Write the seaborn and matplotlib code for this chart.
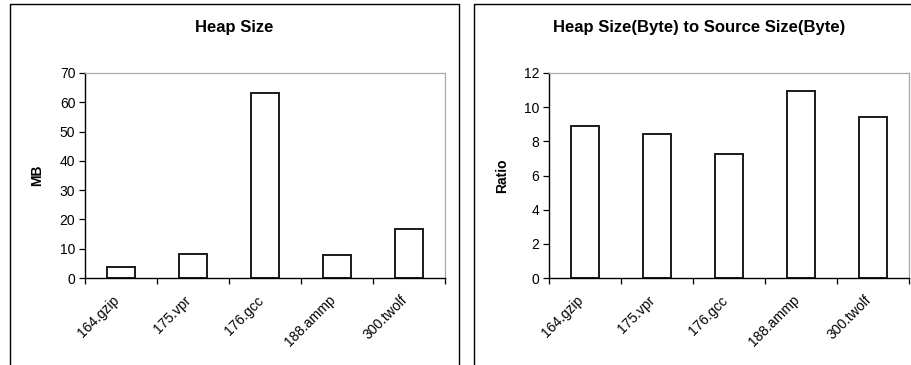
import matplotlib
matplotlib.use("Agg")
import matplotlib.pyplot as plt
import matplotlib.transforms as mtransforms
from matplotlib.lines import Line2D
import seaborn as sns
import pandas as pd

benchmarks = ["164.gzip", "175.vpr", "176.gcc", "188.ammp", "300.twolf"]
heap_mb = [3.9, 8.3, 63.2, 7.8, 16.6]
heap_to_source_ratio = [8.9, 8.45, 7.25, 10.92, 9.42]

sns.set_theme(style="white")
plt.rcParams["font.family"] = ["Liberation Sans", "DejaVu Sans"]
plt.rcParams["text.color"] = "black"
plt.rcParams["axes.labelcolor"] = "black"
plt.rcParams["xtick.color"] = "black"
plt.rcParams["ytick.color"] = "black"

W, H = 912, 365
fig = plt.figure(figsize=(W / 100, H / 100), dpi=100)

TICK_FS = 10
LABEL_FS = 10
TITLE_FS = 12


def px_axes(x0, y0, x1, y1):
    return fig.add_axes([x0 / W, 1 - y1 / H, (x1 - x0) / W, (y1 - y0) / H])


def draw_panel(ax, values, ymax, step, ylabel):
    df = pd.DataFrame({"benchmark": benchmarks, "value": values})
    sns.barplot(data=df, x="benchmark", y="value", ax=ax, color="white",
                edgecolor="#1a1a1a", linewidth=1.4, width=0.4, saturation=1)
    ax.set_xlim(-0.5, len(benchmarks) - 0.5)
    ax.set_ylim(0, ymax)
    ax.set_yticks(range(0, ymax + 1, step))
    ax.tick_params(axis="y", which="major", length=4, width=0.9, color="black",
                   direction="out", labelsize=TICK_FS, pad=3, left=True,
                   labelcolor="black")
    # category separators as ticks, labels on the category centres
    ax.set_xticks([i - 0.5 for i in range(len(benchmarks) + 1)])
    ax.set_xticklabels([])
    ax.set_xticks(range(len(benchmarks)), minor=True)
    ax.set_xticklabels(benchmarks, minor=True, rotation=45, ha="right",
                       rotation_mode="anchor", fontsize=TICK_FS, color="black")
    ax.tick_params(axis="x", which="major", length=4, width=0.9, color="black",
                   direction="out", bottom=True)
    ax.tick_params(axis="x", which="minor", length=0, pad=11)
    shift = mtransforms.ScaledTranslation(-9 / 100, 0, fig.dpi_scale_trans)
    for lbl in ax.get_xticklabels(minor=True):
        lbl.set_transform(lbl.get_transform() + shift)
    ax.set_xlabel("")
    ax.set_ylabel(ylabel, fontsize=LABEL_FS, fontweight="bold", color="black")
    for side in ("left", "bottom"):
        ax.spines[side].set_color("black")
        ax.spines[side].set_linewidth(1.0)
    for side in ("top", "right"):
        ax.spines[side].set_color("#a8a8a8")
        ax.spines[side].set_linewidth(0.9)
    ax.set_facecolor("white")


ax1 = px_axes(85, 73, 445, 278)
draw_panel(ax1, heap_mb, 70, 10, "MB")
ax1.yaxis.set_label_coords(-0.114, 0.5)

ax2 = px_axes(549, 73, 909, 278)
draw_panel(ax2, heap_to_source_ratio, 12, 2, "Ratio")
ax2.yaxis.set_label_coords(-0.111, 0.5)

fig.text(234 / W, 1 - 27.5 / H, "Heap Size", ha="center", va="center",
         fontsize=TITLE_FS, fontweight="bold", color="black")
fig.text(699 / W, 1 - 27.5 / H, "Heap Size(Byte) to Source Size(Byte)",
         ha="center", va="center", fontsize=TITLE_FS, fontweight="bold",
         color="black")

# chart frames
def fig_line(xs, ys):
    fig.add_artist(Line2D([x / W for x in xs], [1 - y / H for y in ys],
                          color="black", linewidth=1.0))

fig_line([10, 10, 459, 459], [366, 4, 4, 366])
fig_line([474, 474, 913], [366, 4, 4])

fig.savefig("out.png", dpi=100, facecolor="white")
